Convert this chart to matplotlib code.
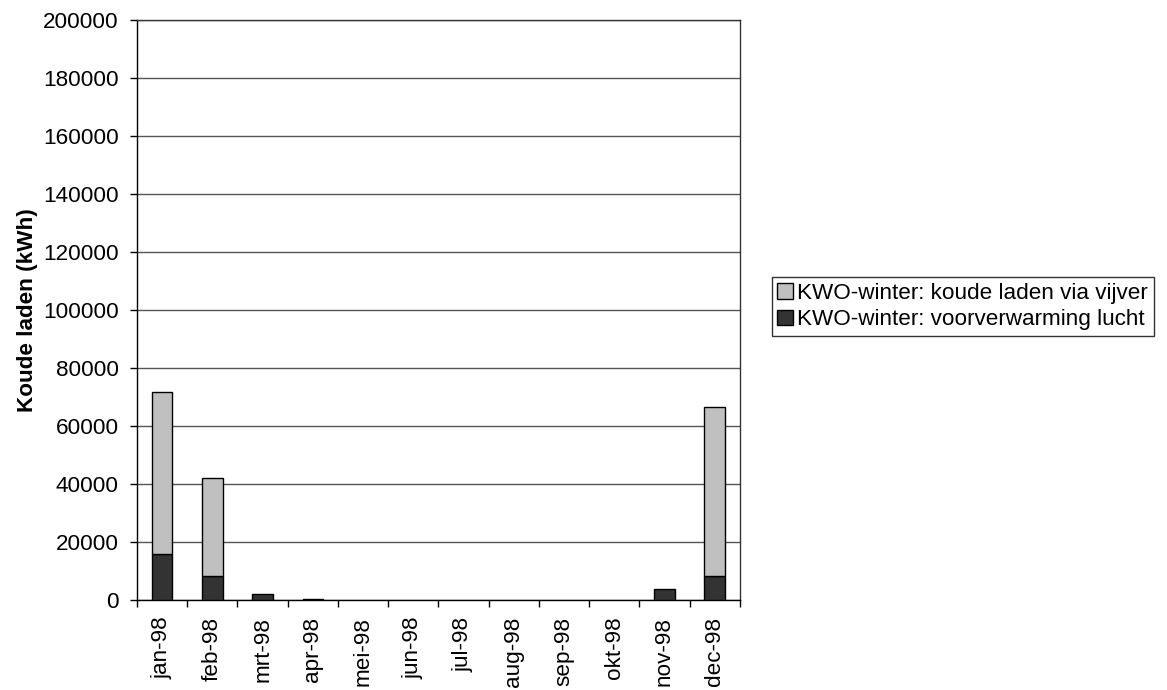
import matplotlib
matplotlib.use("Agg")
import matplotlib.pyplot as plt
import numpy as np

plt.rcParams['font.family'] = ['Liberation Sans', 'DejaVu Sans']

months = ['jan-98', 'feb-98', 'mrt-98', 'apr-98', 'mei-98', 'jun-98',
          'jul-98', 'aug-98', 'sep-98', 'okt-98', 'nov-98', 'dec-98']
voorverwarming = [16000, 8300, 2000, 300, 0, 0, 0, 0, 0, 0, 3700, 8200]
koude_vijver = [55700, 33700, 0, 0, 0, 0, 0, 0, 0, 0, 0, 58200]

FS = 16.2

fig = plt.figure(figsize=(11.67, 6.9), dpi=100)
ax = fig.add_axes([0.1174, 0.1304, 0.5166, 0.8406])

x = np.arange(len(months))
w = 0.41
b1 = ax.bar(x, voorverwarming, width=w, color='#333333', edgecolor='black',
            linewidth=1.0, label='KWO-winter: voorverwarming lucht', zorder=3)
b2 = ax.bar(x, koude_vijver, width=w, bottom=voorverwarming, color='#C0C0C0',
            edgecolor='black', linewidth=1.0,
            label='KWO-winter: koude laden via vijver', zorder=3)
# hide empty segments so they leave no outline on the axis
for p in list(b1) + list(b2):
    if p.get_height() == 0:
        p.set_visible(False)

ax.set_xlim(-0.5, len(months) - 0.5)
ax.set_ylim(0, 200000)
ax.set_yticks(np.arange(0, 200001, 20000))
ax.set_xticks(np.arange(-0.5, len(months), 1.0), minor=False)
ax.set_xticklabels([])
ax.set_xticks(x, minor=True)
ax.set_xticklabels(months, minor=True, rotation=90, fontsize=FS)
ax.tick_params(axis='x', which='minor', length=0, pad=12)
ax.tick_params(axis='x', which='major', length=5, direction='out', width=1)
ax.tick_params(axis='y', length=5, direction='out', width=1, labelsize=FS, pad=8)

ax.yaxis.grid(True, color='#555555', linewidth=1.0, zorder=0)
for s in ax.spines.values():
    s.set_color('#333333')
    s.set_linewidth(1.0)
ax.spines['left'].set_color('black')
ax.spines['bottom'].set_color('black')

ax.set_ylabel('Koude laden (kWh)', fontsize=FS, fontweight='bold', labelpad=4)

handles, labels = ax.get_legend_handles_labels()
leg = fig.legend(handles[::-1], labels[::-1], loc='upper left',
                 bbox_to_anchor=(771.5 / 1167, 1 - 277 / 690),
                 fontsize=FS, frameon=True, fancybox=False,
                 handlelength=0.7, handleheight=0.7, handletextpad=0.2,
                 borderpad=0.25, labelspacing=0.25, borderaxespad=0)
leg.get_frame().set_edgecolor('black')
leg.get_frame().set_linewidth(1.0)

fig.savefig('out.png', dpi=100)
